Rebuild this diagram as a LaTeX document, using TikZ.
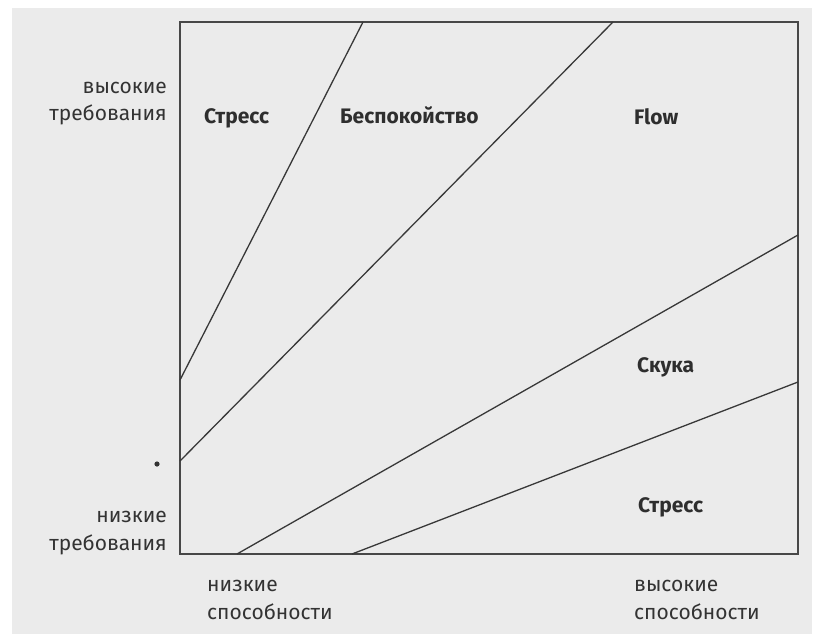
\documentclass[tikz,border=0pt]{standalone}
\usepackage{fontspec}
\setmainfont{Fira Sans}
\begin{document}
\begin{tikzpicture}[x=1pt,y=-1pt,
  axislabel/.style={inner sep=0pt,font=\fontsize{21}{28}\selectfont,text=black!80},
  zonelabel/.style={inner sep=0pt,font=\fontsize{21}{28}\selectfont\bfseries,text=black!82},
  border/.style={draw=black!72,line width=1.3pt},
  divider/.style={draw=black!78,line width=1.3pt}]
\useasboundingbox (0,0) rectangle (822,634);
\fill[white] (0,0) rectangle (822,634);
\fill[black!8] (12,8) rectangle (812,634);
% box
\coordinate (tl) at (180,22);
\coordinate (tr) at (798,22);
\coordinate (br) at (798,554);
\coordinate (bl) at (180,554);
\draw[border] (tl) -- (tr) -- (br) -- (bl) -- cycle;
% divider end points
\coordinate (a1) at (363,22);  \coordinate (a2) at (180,380);
\coordinate (b1) at (613,22);  \coordinate (b2) at (180,461);
\coordinate (c1) at (798,235); \coordinate (c2) at (237,554);
\coordinate (d1) at (798,382); \coordinate (d2) at (352,554);
\draw[divider] (a1) -- (a2);
\draw[divider] (b1) -- (b2);
\draw[divider] (c1) -- (c2);
\draw[divider] (d1) -- (d2);
% speck
\fill[black!80] (157,464) circle (2.6pt);
% axis labels (base = baseline of the last line)
\node[axislabel,align=right,anchor=base east] (hd) at (167,121) {высокие\\требования};
\node[axislabel,align=right,anchor=base east] (ld) at (167,550) {низкие\\требования};
\node[axislabel,align=left,anchor=base west] (la) at (207,619) {низкие\\способности};
\node[axislabel,align=left,anchor=base west] (ha) at (634,619) {высокие\\способности};
% zone labels
\node[zonelabel,anchor=base west] (s1) at (204,123) {Стресс};
\node[zonelabel,anchor=base west] (anx) at (340,123) {Беспокойство};
\node[zonelabel,anchor=base west] (flow) at (634,124) {Flow};
\node[zonelabel,anchor=base west] (bor) at (637,372) {Скука};
\node[zonelabel,anchor=base west] (s2) at (638,512) {Стресс};
\end{tikzpicture}
\end{document}
